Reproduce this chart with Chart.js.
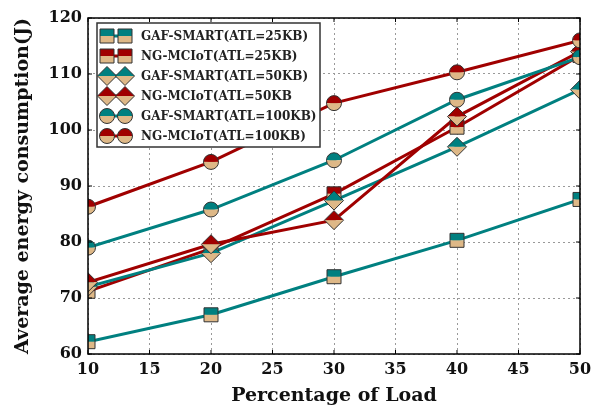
<!DOCTYPE html>
<html>
<head>
<meta charset="utf-8">
<script src="https://cdn.jsdelivr.net/npm/chart.js@4/dist/chart.umd.min.js"></script>
<style>
  html, body { margin: 0; padding: 0; background: #fff; }
  #wrap { width: 598px; height: 407px; }
</style>
</head>
<body>
<div id="wrap"><canvas id="energyChart" width="598" height="407"></canvas></div>
<script>
// data
const loads = [10, 20, 30, 40, 50];
const gaf25 = [62.2, 67.0, 73.8, 80.3, 87.6];
const ng25 = [71.2, 78.8, 88.6, 100.5, 113.3];
const gaf50 = [72.0, 78.0, 87.4, 97.0, 107.2];
const ng50 = [72.8, 79.6, 83.9, 102.4, 114.0];
const gaf100 = [79.0, 85.8, 94.6, 105.4, 113.0];
const ng100 = [86.3, 94.3, 104.8, 110.3, 116.0];
const seriesNames = [
  'GAF-SMART(ATL=25KB)', 'NG-MCIoT(ATL=25KB)',
  'GAF-SMART(ATL=50KB)', 'NG-MCIoT(ATL=50KB',
  'GAF-SMART(ATL=100KB)', 'NG-MCIoT(ATL=100KB)'
];
const yTicks = [60, 70, 80, 90, 100, 110, 120];
const xTicks = [10, 15, 20, 25, 30, 35, 40, 45, 50];

const TEAL = '#008080';
const RED = '#a00000';
const TAN = '#deb887';
const FONT = 'DejaVu Serif';

const series = [
  { data: gaf25, color: TEAL, shape: 'square' },
  { data: ng25, color: RED, shape: 'square' },
  { data: gaf50, color: TEAL, shape: 'diamond' },
  { data: ng50, color: RED, shape: 'diamond' },
  { data: gaf100, color: TEAL, shape: 'circle' },
  { data: ng100, color: RED, shape: 'circle' }
];

// half-filled matplotlib-style marker (top colour / bottom tan)
function drawMarker(ctx, shape, color, x, y) {
  const r = shape === 'diamond' ? 9.5 : (shape === 'circle' ? 7.5 : 7);
  const path = () => {
    ctx.beginPath();
    if (shape === 'square') ctx.rect(x - r, y - r, 2 * r, 2 * r);
    else if (shape === 'circle') ctx.arc(x, y, r, 0, Math.PI * 2);
    else { ctx.moveTo(x, y - r); ctx.lineTo(x + r, y); ctx.lineTo(x, y + r); ctx.lineTo(x - r, y); ctx.closePath(); }
  };
  ctx.save();
  path(); ctx.clip();
  ctx.fillStyle = color; ctx.fillRect(x - r - 1, y - r - 1, 2 * r + 2, r + 1);
  ctx.fillStyle = TAN; ctx.fillRect(x - r - 1, y, 2 * r + 2, r + 1);
  ctx.restore();
  path();
  ctx.strokeStyle = '#333'; ctx.lineWidth = 1; ctx.stroke();
}

const datasets = series.map((s, i) => ({
  label: seriesNames[i],
  data: loads.map((x, k) => ({ x: x, y: s.data[k] })),
  borderColor: s.color,
  backgroundColor: s.color,
  borderWidth: 3,
  pointRadius: 0,
  tension: 0,
  clip: 0,
  order: series.length - i,   // later series on top, like the original
  shape: s.shape
}));

const framePlugin = {
  id: 'frame',
  afterDatasetsDraw(chart) {
    const { ctx, chartArea: a, scales } = chart;

    // markers at the points placed by the library, clipped to the axes box
    ctx.save();
    ctx.beginPath();
    ctx.rect(a.left, a.top, a.right - a.left, a.bottom - a.top);
    ctx.clip();
    chart.data.datasets.forEach((ds, i) => {
      chart.getDatasetMeta(i).data.forEach(pt => drawMarker(ctx, ds.shape, ds.borderColor, pt.x, pt.y));
    });
    ctx.restore();

    ctx.save();
    ctx.strokeStyle = '#000';
    ctx.lineWidth = 1;
    xTicks.forEach(v => {
      const px = scales.x.getPixelForValue(v);
      ctx.beginPath();
      ctx.moveTo(px, a.bottom); ctx.lineTo(px, a.bottom - 4);
      ctx.moveTo(px, a.top); ctx.lineTo(px, a.top + 4);
      ctx.stroke();
    });
    yTicks.forEach(v => {
      const py = scales.y.getPixelForValue(v);
      ctx.beginPath();
      ctx.moveTo(a.left, py); ctx.lineTo(a.left + 4, py);
      ctx.moveTo(a.right, py); ctx.lineTo(a.right - 4, py);
      ctx.stroke();
    });
    ctx.lineWidth = 1.5;
    ctx.strokeRect(a.left, a.top, a.right - a.left, a.bottom - a.top);

    // legend
    const lx = a.left + 9, ly = a.top + 5, lw = 223, lh = 124;
    ctx.fillStyle = '#fff';
    ctx.fillRect(lx, ly, lw, lh);
    ctx.lineWidth = 1.5;
    ctx.strokeStyle = '#333';
    ctx.strokeRect(lx, ly, lw, lh);
    ctx.font = 'bold 12px "' + FONT + '"';
    ctx.textBaseline = 'middle';
    ctx.textAlign = 'left';
    chart.data.datasets.forEach((ds, i) => {
      const ry = ly + 13 + i * 20;
      const x1 = lx + 10, x2 = lx + 28;
      ctx.strokeStyle = ds.borderColor;
      ctx.lineWidth = 3;
      ctx.beginPath(); ctx.moveTo(x1, ry); ctx.lineTo(x2, ry); ctx.stroke();
      drawMarker(ctx, ds.shape, ds.borderColor, x1, ry);
      drawMarker(ctx, ds.shape, ds.borderColor, x2, ry);
      ctx.fillStyle = '#222';
      ctx.fillText(ds.label, lx + 44, ry + 1);
    });
    ctx.restore();
  }
};

new Chart(document.getElementById('energyChart'), {
  type: 'line',
  data: { datasets: datasets },
  plugins: [framePlugin],
  options: {
    responsive: false,
    animation: false,
    layout: { padding: { left: 0, right: 18, top: 18, bottom: 0 } },
    plugins: { legend: { display: false }, tooltip: { enabled: false } },
    scales: {
      x: {
        type: 'linear', min: 10, max: 50,
        afterBuildTicks: s => { s.ticks = xTicks.map(v => ({ value: v })); },
        afterFit: s => { s.height = 53; },
        border: { display: false, dash: [2, 3] },
        grid: { color: '#999', drawTicks: false, lineWidth: 1 },
        ticks: { padding: 6, color: '#111', font: { family: FONT, size: 16, weight: 'bold' } },
        title: { display: true, text: 'Percentage of Load', color: '#111', padding: { top: 0, bottom: 0 },
                 font: { family: FONT, size: 19, weight: 'bold' } }
      },
      y: {
        min: 60, max: 120,
        afterBuildTicks: s => { s.ticks = yTicks.map(v => ({ value: v })); },
        afterFit: s => { s.width = 88; },
        border: { display: false, dash: [2, 3] },
        grid: { color: '#999', drawTicks: false, lineWidth: 1 },
        ticks: { padding: 6, color: '#111', font: { family: FONT, size: 16, weight: 'bold' } },
        title: { display: true, text: 'Average energy consumption(J)', color: '#111', padding: { top: 12, bottom: 0 },
                 font: { family: FONT, size: 19, weight: 'bold' } }
      }
    }
  }
});
</script>
</body>
</html>
